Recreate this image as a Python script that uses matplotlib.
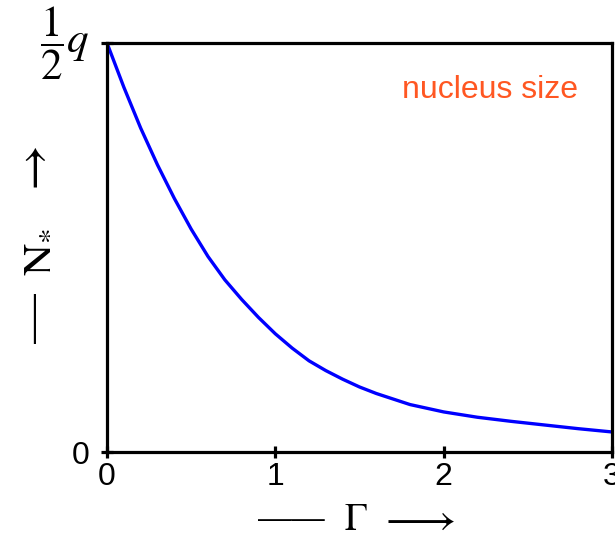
import matplotlib
matplotlib.use("Agg")
import matplotlib.pyplot as plt

# nucleus size N* (in units of q/2) versus Gamma
gamma = [0.0, 0.1, 0.2, 0.3, 0.4, 0.5, 0.6, 0.7, 0.8, 0.9, 1.0,
         1.1, 1.2, 1.3, 1.4, 1.5, 1.6, 1.8, 2.0, 2.2, 2.4, 2.6, 2.8, 3.0]
n_star = [1.000, 0.892, 0.792, 0.702, 0.620, 0.545, 0.478, 0.421, 0.373, 0.329, 0.289,
          0.254, 0.223, 0.199, 0.178, 0.159, 0.143, 0.116, 0.098, 0.085, 0.075, 0.066, 0.057, 0.049]

x_ticks = [0, 1, 2, 3]
y_ticks = [0, 1]
y_tick_labels = ["0", r"$\dfrac{1}{2}q$"]

plt.rcParams["font.family"] = ["Liberation Sans", "DejaVu Sans"]
plt.rcParams["mathtext.fontset"] = "stix"
serif = ["STIXGeneral", "DejaVu Serif"]

fig = plt.figure(figsize=(6.15, 5.37), dpi=100)
ax = fig.add_axes([107 / 615, 85 / 537, 505 / 615, 409 / 537])

ax.plot(gamma, n_star, color="#0000ff", linewidth=2.4, solid_capstyle="butt")

ax.set_xlim(0, 3)
ax.set_ylim(0, 1)
ax.set_xticks(x_ticks)
ax.set_xticklabels([str(t) for t in x_ticks])
ax.set_yticks(y_ticks)
ax.set_yticklabels(y_tick_labels)

for s in ax.spines.values():
    s.set_linewidth(2.3)
ax.tick_params(direction="inout", length=9, width=2.3, labelsize=23, pad=3)
ax.tick_params(axis="y", pad=8)
half_q = ax.get_yticklabels()[1]
half_q.set_fontsize(31)
half_q.set_verticalalignment("center")

ax.text(0.933, 0.885, "nucleus size", transform=ax.transAxes, ha="right", va="center",
        color="#ff5722", fontsize=23)

# axis captions: dash, symbol, arrow
fig.text(291 / 615, 1 - 520 / 537, "\u2014\u2014", ha="center", va="center",
         fontsize=24, family=serif)
fig.text(356 / 615, 1 - 520 / 537, r"$\Gamma$", ha="center", va="center", fontsize=27)
fig.text(417 / 615, 1 - 520 / 537, r"$\longrightarrow$", ha="center", va="center", fontsize=32)

fig.text(35 / 615, 1 - 318 / 537, "\u2014", ha="center", va="center", rotation=90,
         fontsize=36, family=serif)
fig.text(37 / 615, 1 - 252 / 537, r"$\mathrm{N}_{*}$", ha="center", va="center", rotation=90,
         fontsize=32)
fig.text(35 / 615, 1 - 172 / 537, r"$\rightarrow$", ha="center", va="center", rotation=90,
         fontsize=36)

fig.savefig("out.png", dpi=100)
